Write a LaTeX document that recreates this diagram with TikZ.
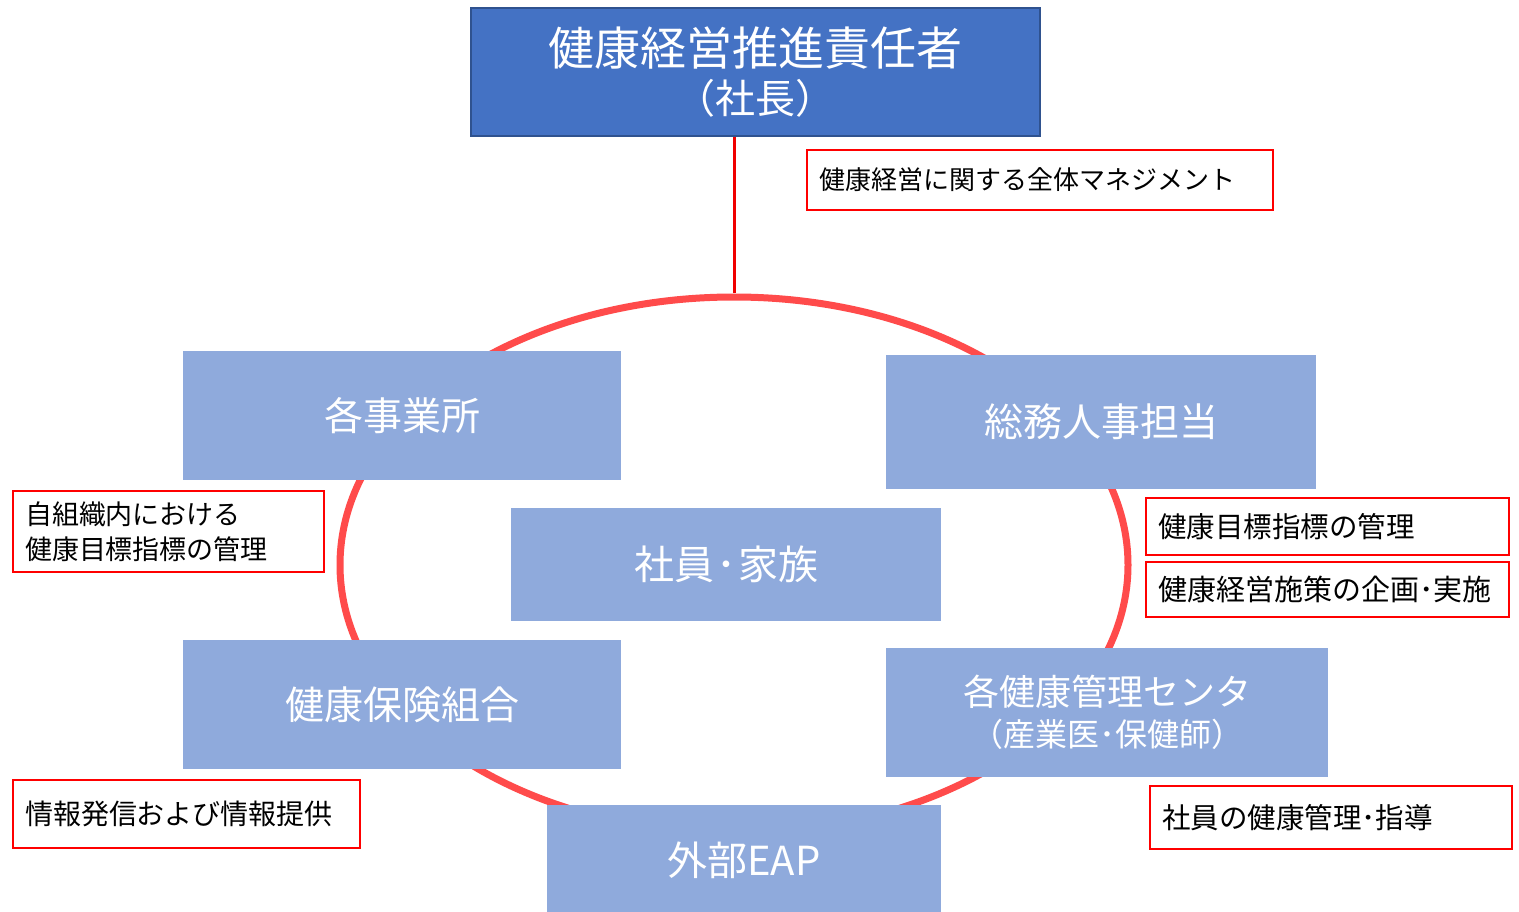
\documentclass[tikz,border=0pt]{standalone}
\usepackage{fontspec}
\setmainfont{Noto Sans CJK JP}
\usetikzlibrary{shapes.geometric}
\definecolor{topblue}{HTML}{4472C4}
\definecolor{topedge}{HTML}{2F528F}
\definecolor{lightblue}{HTML}{8FAADC}
\definecolor{ringred}{HTML}{FF4B4B}
\definecolor{linered}{HTML}{F00000}
\definecolor{boxred}{HTML}{FF0000}
\tikzset{
  bluebox/.style={fill=lightblue, draw=none, text=white, inner sep=0pt, align=center},
  notebox/.style={draw=boxred, line width=1.6pt, fill=white, text=black, inner xsep=12pt, inner ysep=0pt, align=left},
}
\newcommand{\fs}[2]{\fontsize{#1}{#2}\selectfont}
\begin{document}
\begin{tikzpicture}[x=1pt,y=-1pt]
\useasboundingbox (0,0) rectangle (1519,912);
% ring
\node[ellipse, draw=ringred, line width=7pt, minimum width=788pt, minimum height=536pt, inner sep=0pt] (ring) at (734,565) {};
% top
\node[fill=topblue, draw=topedge, line width=1.5pt, text=white, minimum width=569pt, minimum height=128pt, inner sep=0pt, align=center] (top) at (755.5,72) {\fs{46}{50}健康経営推進責任者\\[9pt]\fs{40}{50}（社長）};
\draw[linered, line width=3pt] (top.south -| ring.north) -- (ring.north);
\node[notebox, text width=442pt, minimum height=60pt, font=\fs{26}{30}] (mgmt) at (1040,180) {健康経営に関する全体マネジメント};
% blue boxes
\node[bluebox, minimum width=438pt, minimum height=129pt, font=\fs{39}{44}] (jigyo) at (402,415.5) {各事業所};
\node[bluebox, minimum width=430pt, minimum height=134pt, font=\fs{39}{44}] (somu) at (1101,422) {総務人事担当};
\node[bluebox, minimum width=430pt, minimum height=113pt, font=\fs{40}{44}] (shain) at (726,564.5) {社員\kern2pt･\kern2pt家族};
\node[bluebox, minimum width=438pt, minimum height=129pt, font=\fs{39}{44}] (kenpo) at (402,704.5) {健康保険組合};
\node[bluebox, minimum width=442pt, minimum height=129pt] (center) at (1107,712.5) {\fs{36}{45}各健康管理センタ\\[10pt]\fs{32}{45}（産業医･保健師）};
\node[bluebox, minimum width=394pt, minimum height=110pt, font=\fs{40}{44}] (eap) at (744,860) {外部EAP};
% notes
\node[notebox, text width=287pt, minimum height=81pt, font=\fs{27}{35}] (jiso) at (168.5,531.5) {自組織内における\\健康目標指標の管理};
\node[notebox, text width=339pt, minimum height=57pt, font=\fs{28.5}{32}] (mokuhyo) at (1327.5,526.5) {健康目標指標の管理};
\node[notebox, text width=339pt, minimum height=55pt, font=\fs{29}{32}] (shisaku) at (1327.5,589.5) {健康経営施策の企画･実施};
\node[notebox, text width=338pt, minimum height=63pt, font=\fs{28.5}{32}] (shido) at (1331,817.5) {社員の健康管理･指導};
\node[notebox, text width=323pt, minimum height=68pt, font=\fs{28}{32}] (joho) at (186.5,814) {情報発信および情報提供};
\end{tikzpicture}
\end{document}
